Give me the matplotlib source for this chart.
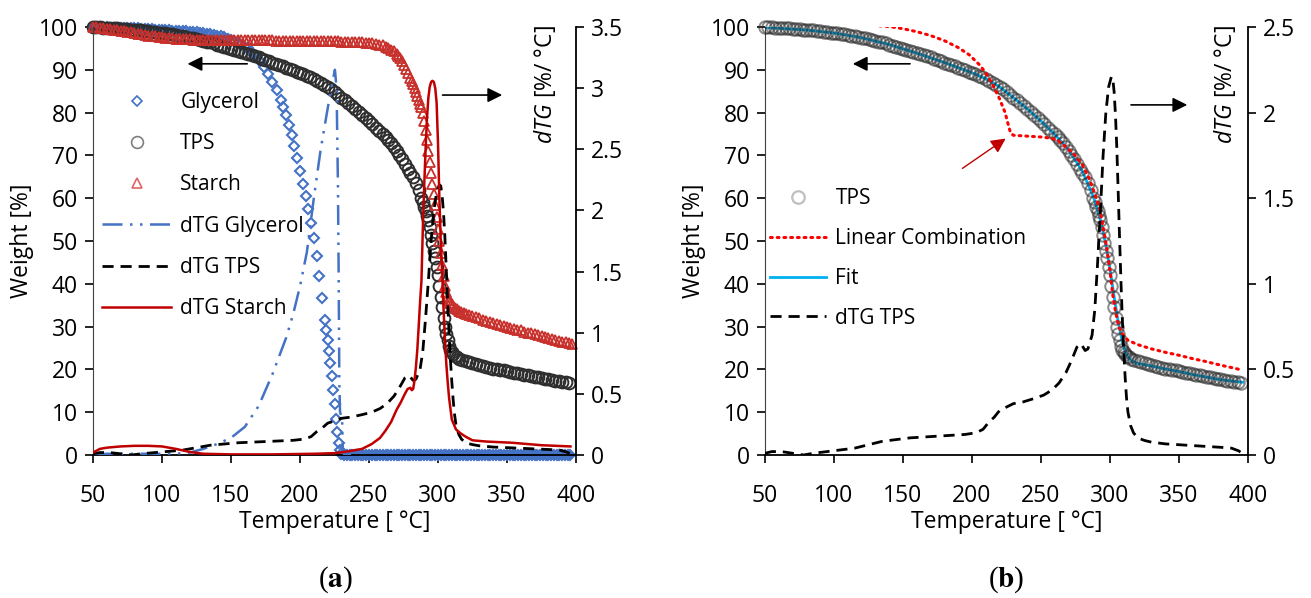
import numpy as np
import matplotlib.pyplot as plt
from matplotlib.lines import Line2D

plt.rcParams['font.family'] = ['Open Sans', 'DejaVu Sans']
plt.rcParams['mathtext.fontset'] = 'custom'
plt.rcParams['mathtext.rm'] = 'Open Sans'
plt.rcParams['mathtext.it'] = 'Open Sans:italic'

# ---- weight curves [%] vs temperature [C] ----
gly_T = [50, 52.5, 55, 57.5, 60, 62.5, 65, 67.5, 70, 72.5, 75, 77.5, 80, 82.5, 85, 87.5, 90, 92.5,
         95, 97.5, 100, 102.5, 105, 107.5, 110, 112.5, 115, 117.5, 120, 122.5, 125, 127.5, 130,
         132.5, 135, 137.5, 140, 142.5, 145, 147.5, 150, 152.5, 155, 157.5, 160, 162, 164, 166, 168,
         170, 171, 174, 177, 180, 183, 186, 188, 190, 192, 194, 196, 198, 200, 202, 204, 206, 208,
         210, 212, 214, 216, 218, 219, 220, 221, 222, 223, 224, 225, 226, 227, 228, 229, 230]
gly_w = [100, 99.95, 99.9, 99.9, 99.9, 99.85, 99.8, 99.8, 99.8, 99.75, 99.7, 99.7, 99.7, 99.65,
         99.6, 99.55, 99.5, 99.45, 99.4, 99.35, 99.3, 99.25, 99.2, 99.15, 99.1, 99.05, 99.0, 98.95,
         98.9, 98.85, 98.8, 98.7, 98.6, 98.45, 98.3, 98.15, 98.0, 97.8, 97.6, 97.3, 97.0, 96.65,
         96.3, 95.85, 95.4, 95.0, 94.4, 93.8, 93.2, 92.4, 92.0, 90.6, 89.0, 87.2, 85.2, 83.0, 81.3,
         79.4, 77.2, 74.8, 72.2, 69.4, 66.3, 63.3, 60.4, 57.4, 54.3, 50.8, 46.6, 41.8, 36.6, 31.6,
         29.2, 26.8, 24.2, 21.4, 18.4, 15.2, 11.8, 8.4, 5.3, 2.8, 1.1, 0.3]
# glycerol residue: flat at zero up to the end of the run
gly_tail_T = [232, 234, 236, 238, 240, 242, 244, 246, 248, 250, 252, 254, 256, 258, 260, 262, 264,
              266, 268, 270, 272, 274, 276, 278, 280, 282, 284, 286, 288, 290, 292, 294, 296, 298,
              300, 302, 304, 306, 308, 310, 312, 314, 316, 318, 320, 322, 324, 326, 328, 330, 332,
              334, 336, 338, 340, 342, 344, 346, 348, 350, 352, 354, 356, 358, 360, 362, 364, 366,
              368, 370, 372, 374, 376, 378, 380, 382, 384, 386, 388, 390, 392, 394, 396]
gly_tail_w = [0, 0, 0, 0, 0, 0, 0, 0, 0, 0, 0, 0, 0, 0, 0, 0, 0, 0, 0, 0, 0, 0, 0, 0, 0, 0, 0, 0,
              0, 0, 0, 0, 0, 0, 0, 0, 0, 0, 0, 0, 0, 0, 0, 0, 0, 0, 0, 0, 0, 0, 0, 0, 0, 0, 0, 0,
              0, 0, 0, 0, 0, 0, 0, 0, 0, 0, 0, 0, 0, 0, 0, 0, 0, 0, 0, 0, 0, 0, 0, 0, 0, 0, 0]

tps_T = [50, 52.5, 55, 57.5, 60, 62.5, 65, 67.5, 70, 72.5, 75, 77.5, 80, 82.5, 85, 87.5, 90, 92.5,
         95, 97.5, 100, 102.5, 105, 107.5, 110, 112.5, 115, 117.5, 120, 122.5, 125, 127.5, 130,
         132.5, 135, 137.5, 140, 142.5, 145, 147.5, 150, 152.5, 155, 157.5, 160, 162.5, 165, 167.5,
         170, 172.5, 175, 177.5, 180, 182.5, 185, 187.5, 190, 192.5, 195, 197.5, 200, 202.5, 205,
         207.5, 210, 212.5, 215, 217.5, 220, 222.5, 225, 227.5, 230, 232.5, 235, 237.5, 240, 242.5,
         245, 247.5, 250, 252.5, 255, 257.5, 260, 262, 264, 266, 268, 270, 272, 274, 276, 278, 280,
         282, 284, 286, 288, 289, 290, 291, 292, 293, 294, 295, 296, 297, 298, 299, 300, 301, 302,
         303, 304, 305, 306, 307, 308, 309, 310, 311, 312, 313.5, 315, 317.5, 320, 322.5, 325,
         327.5, 330, 332.5, 335, 337.5, 340, 342.5, 345, 347.5, 350, 352.5, 355, 357.5, 360, 362.5,
         365, 367.5, 370, 372.5, 375, 377.5, 380, 382.5, 385, 387.5, 390, 392.5, 395]
tps_w = [100, 99.95, 99.9, 99.85, 99.8, 99.75, 99.7, 99.65, 99.6, 99.55, 99.5, 99.4, 99.3, 99.25,
         99.2, 99.1, 99.0, 98.9, 98.8, 98.7, 98.6, 98.5, 98.4, 98.25, 98.1, 97.95, 97.8, 97.65,
         97.5, 97.35, 97.2, 97.0, 96.8, 96.6, 96.4, 96.15, 95.9, 95.65, 95.4, 95.15, 94.9, 94.65,
         94.4, 94.15, 93.9, 93.65, 93.4, 93.15, 92.9, 92.6, 92.3, 92.0, 91.7, 91.4, 91.1, 90.8,
         90.5, 90.2, 89.9, 89.6, 89.3, 88.95, 88.6, 88.25, 87.9, 87.45, 87.0, 86.5, 86.0, 85.4,
         84.8, 84.15, 83.5, 82.85, 82.2, 81.55, 80.9, 80.2, 79.5, 78.75, 78.0, 77.25, 76.5, 75.7,
         74.9, 74.2, 73.5, 72.8, 72.0, 71.1, 70.2, 69.1, 68.0, 66.9, 65.9, 64.9, 63.5, 61.9, 60.0,
         59.0, 58.0, 57.0, 55.9, 54.8, 53.2, 51.5, 49.6, 47.7, 46.0, 44.0, 42.0, 39.5, 37.0, 34.5,
         32.0, 30.0, 28.3, 26.8, 25.5, 24.6, 24.0, 23.5, 23.1, 22.8, 22.4, 22.1, 21.9, 21.65, 21.4,
         21.2, 21.0, 20.8, 20.6, 20.4, 20.2, 20.05, 19.9, 19.75, 19.6, 19.4, 19.2, 19.05, 18.9,
         18.75, 18.6, 18.45, 18.3, 18.15, 18.0, 17.85, 17.7, 17.55, 17.4, 17.25, 17.1, 17.0, 16.9]

sta_T = [50, 52.5, 55, 57.5, 60, 62.5, 65, 67.5, 70, 72.5, 75, 77.5, 80, 82.5, 85, 87.5, 90, 92.5,
         95, 97.5, 100, 102.5, 105, 107.5, 110, 112.5, 115, 117.5, 120, 122.5, 125, 127.5, 130,
         132.5, 135, 137.5, 140, 142.5, 145, 147.5, 150, 152.5, 155, 157.5, 160, 162.5, 165, 167.5,
         170, 172.5, 175, 177.5, 180, 182.5, 185, 187.5, 190, 192.5, 195, 197.5, 200, 202.5, 205,
         207.5, 210, 212.5, 215, 217.5, 220, 222.5, 225, 227.5, 230, 232.5, 235, 237.5, 240, 242.5,
         245, 247.5, 250, 252.5, 255, 257.5, 260, 262, 264, 266, 268, 270, 271, 272.5, 274, 275.5,
         277, 278.5, 280, 281, 282, 283, 284, 285, 286, 287, 288, 289, 290, 291, 292, 293, 294, 295,
         296, 297, 298, 299, 300, 301, 302, 303, 304, 305, 306, 307, 308, 309, 310, 311, 312.5, 314,
         315.5, 317, 318.5, 320, 322.5, 325, 327.5, 330, 332.5, 335, 337.5, 340, 342.5, 345, 347.5,
         350, 352.5, 355, 357.5, 360, 362.5, 365, 367.5, 370, 372.5, 375, 377.5, 380, 382.5, 385,
         387.5, 390, 392.5, 395, 397]
sta_w = [100, 99.9, 99.8, 99.7, 99.6, 99.5, 99.4, 99.25, 99.1, 99.0, 98.9, 98.75, 98.6, 98.45,
         98.3, 98.15, 98.0, 97.9, 97.8, 97.7, 97.6, 97.5, 97.4, 97.35, 97.3, 97.25, 97.2, 97.15,
         97.1, 97.0, 96.9, 96.9, 96.9, 96.9, 96.9, 96.9, 96.9, 96.9, 96.9, 96.9, 96.9, 96.9, 96.9,
         96.9, 96.9, 96.9, 96.9, 96.9, 96.9, 96.9, 96.9, 96.9, 96.9, 96.8, 96.8, 96.8, 96.8, 96.8,
         96.8, 96.8, 96.8, 96.8, 96.8, 96.8, 96.8, 96.8, 96.7, 96.7, 96.7, 96.7, 96.7, 96.7, 96.6,
         96.6, 96.6, 96.6, 96.5, 96.45, 96.4, 96.35, 96.3, 96.2, 96.1, 95.9, 95.7, 95.4, 95.1, 94.7,
         94.3, 93.7, 93.3, 92.7, 92.0, 91.2, 90.3, 89.3, 88.2, 87.4, 86.6, 85.7, 84.8, 83.9, 83.0,
         82.1, 81.2, 79.8, 78.0, 76.0, 73.5, 71.0, 68.5, 66.0, 63.4, 60.9, 58.3, 55.6, 52.8, 50.0,
         47.2, 44.4, 41.8, 39.6, 38.0, 36.9, 36.2, 35.6, 35.2, 34.8, 34.4, 34.0, 33.7, 33.4, 33.2,
         33.0, 32.7, 32.4, 32.15, 31.9, 31.65, 31.4, 31.15, 30.9, 30.65, 30.4, 30.2, 30.0, 29.75,
         29.5, 29.3, 29.1, 28.85, 28.6, 28.4, 28.2, 27.95, 27.7, 27.5, 27.3, 27.1, 26.9, 26.7,
         26.5, 26.3, 26.1, 26.0]

# ---- derivative curves dTG [%/C] ----
dgly_T = [50, 60, 70, 80, 90, 100, 110, 120, 130, 140, 150, 160, 170, 180, 190, 195, 200, 205, 210,
          215, 220, 223, 225.3, 226.5, 227.5, 228, 228.5, 229, 230.5, 231, 232, 240]
dgly_v = [0.0, 0.01, 0.01, 0.01, 0.01, 0.01, 0.01, 0.02, 0.05, 0.09, 0.14, 0.23, 0.40, 0.66, 0.96,
          1.15, 1.38, 1.66, 2.10, 2.50, 2.83, 3.02, 3.15, 3.0, 2.2, 1.5, 0.6, 0.35, 0.3, 0.05, 0.0, 0.0]

dtps_T = [50, 55, 62, 70, 78, 85, 95, 105, 115, 125, 135, 145, 155, 165, 175, 185, 195, 203, 208,
          212, 216, 220, 225, 230, 237, 245, 252, 258, 263, 268, 272, 276, 279, 282, 284, 287, 289,
          291, 293, 295, 297, 299, 301, 302, 303, 304, 305, 306, 307, 308, 309, 310, 311, 312, 313,
          315, 317, 320, 325, 330, 340, 350, 360, 370, 380, 388, 393, 396]
dtps_v = [0.01, 0.02, 0.02, 0.01, 0.0, 0.01, 0.02, 0.03, 0.04, 0.06, 0.08, 0.09, 0.10, 0.105, 0.11,
          0.115, 0.12, 0.13, 0.15, 0.19, 0.22, 0.26, 0.28, 0.30, 0.31, 0.33, 0.35, 0.38, 0.42, 0.48,
          0.55, 0.63, 0.65, 0.61, 0.62, 0.70, 0.85, 1.12, 1.42, 1.75, 2.0, 2.15, 2.21, 2.2, 2.12,
          1.98, 1.78, 1.52, 1.25, 1.0, 0.78, 0.6, 0.45, 0.33, 0.25, 0.17, 0.13, 0.10, 0.085, 0.075,
          0.065, 0.06, 0.055, 0.05, 0.045, 0.04, 0.025, 0.01]

dsta_T = [50, 55, 60, 70, 80, 90, 100, 110, 120, 130, 150, 180, 210, 225, 235, 245, 252, 258, 262,
          266, 270, 273, 276, 278, 280, 281, 282, 283, 284, 285, 286, 287, 288, 289, 290, 291, 292,
          293, 294, 295, 296, 297, 298, 299, 300, 301, 302, 303, 304, 305, 306, 307, 308, 310, 313,
          316, 320, 325, 335, 354, 375, 396]
dsta_v = [0.02, 0.05, 0.06, 0.07, 0.075, 0.075, 0.07, 0.05, 0.025, 0.01, 0.005, 0.005, 0.01, 0.015,
          0.03, 0.05, 0.09, 0.14, 0.2, 0.27, 0.37, 0.43, 0.5, 0.54, 0.55, 0.53, 0.54, 0.61, 0.72,
          0.86, 1.05, 1.25, 1.42, 1.85, 2.2, 2.5, 2.75, 2.92, 3.01, 3.05, 3.06, 3.05, 3.0, 2.88,
          2.55, 2.1, 1.75, 1.49, 1.2, 0.95, 0.75, 0.6, 0.47, 0.29, 0.21, 0.18, 0.15, 0.12, 0.11,
          0.10, 0.08, 0.07]

# ---- panel b: fit and linear combination ----
fit_T = [50, 60, 80, 100, 120, 140, 160, 180, 200, 210, 220, 230, 240, 250, 260, 270, 280, 288,
         293, 297, 300, 303, 306, 309, 311, 313, 316, 320, 330, 340, 350, 360, 370, 380, 390, 396]
fit_w = [99.9, 99.7, 99.3, 98.6, 97.5, 95.9, 93.9, 91.7, 89.3, 87.9, 86.0, 83.5, 80.9, 78.0, 74.9,
         71.3, 66.3, 60.3, 55.0, 49.0, 43.5, 37.0, 31.0, 26.3, 24.3, 22.9, 21.9, 21.4, 20.8, 20.1,
         19.5, 18.8, 18.2, 17.6, 17.2, 17.0]

lin_T = [128, 140, 150, 160, 170, 180, 190, 198, 205, 210, 215, 220, 224, 226, 228, 230, 240, 250,
         258, 263, 268, 274, 280, 285, 289, 292, 294, 296, 298, 300, 302, 304, 306, 308, 310, 313,
         320, 330, 340, 350, 360, 370, 380, 390, 396]
lin_w = [100.4, 100.1, 99.6, 98.9, 98.0, 96.8, 95.2, 93.5, 91.3, 89.3, 86.5, 83.2, 80.0, 77.5, 75.2,
         74.7, 74.5, 74.3, 74.0, 73.3, 72.0, 70.2, 67.8, 64.5, 61.0, 58.0, 55.0, 51.5, 47.5, 43.0,
         37.5, 33.5, 30.5, 28.8, 27.8, 26.8, 25.8, 24.8, 24.0, 23.3, 22.5, 21.8, 21.0, 20.3, 19.8]

xticks = [50, 100, 150, 200, 250, 300, 350, 400]
wticks = [0, 10, 20, 30, 40, 50, 60, 70, 80, 90, 100]
rticks_a = [0, 0.5, 1, 1.5, 2, 2.5, 3, 3.5]
rticks_b = [0, 0.5, 1, 1.5, 2, 2.5]

FS = 16.5
LFS = 15
W, H = 1311, 598
fig = plt.figure(figsize=(W / 100, H / 100), dpi=100)
ax_a = fig.add_axes([93 / W, 1 - 455 / H, 483 / W, 428 / H])
ax_b = fig.add_axes([765 / W, 1 - 455 / H, 483 / W, 428 / H])


def style(ax, axr, rticks, lab_x):
    ax.set_xlim(50, 400)
    ax.set_ylim(0, 100)
    axr.set_ylim(0, rticks[-1])
    ax.set_xticks(xticks)
    ax.set_yticks(wticks)
    axr.set_yticks(rticks)
    axr.set_yticklabels(['{:g}'.format(t) for t in rticks])
    for a in (ax, axr):
        a.spines['top'].set_visible(False)
    ax.spines['right'].set_visible(False)
    axr.spines['left'].set_visible(False)
    axr.spines['bottom'].set_visible(False)
    ax.spines['left'].set_color('#404040')
    ax.spines['bottom'].set_linewidth(1.3)
    axr.spines['right'].set_linewidth(1.3)
    ax.tick_params(axis='x', direction='out', length=6, width=1.2, pad=15, labelsize=FS)
    ax.tick_params(axis='y', direction='out', length=6, width=1.2, pad=5, labelsize=FS)
    axr.tick_params(axis='y', direction='out', length=6, width=1.2, pad=5, labelsize=FS)
    ax.set_xlabel('Temperature [ °C]', fontsize=FS, labelpad=1)
    ax.set_ylabel('Weight [%]', fontsize=FS, labelpad=3)
    axr.text(lab_x, 0.865, r'$\mathit{dTG}$ [%/ °C]', transform=axr.transAxes, rotation=90,
             ha='center', va='center', fontsize=FS)


# ---------------- panel (a) ----------------
ax_ar = ax_a.twinx()
gly_style = dict(ls='none', marker='D', ms=5.6, mfc='none', mec='#4472C4', mew=1.5, clip_on=False)
ax_a.plot(gly_T, gly_w, **gly_style)
ax_a.plot(gly_tail_T, gly_tail_w, ls='none', marker='D', ms=5.6, mfc='#4472C4', mec='#4472C4',
          mew=1.5, clip_on=False)
ax_a.plot(tps_T, tps_w, ls='none', marker='o', ms=8.5, mfc='none', mec='#2e2e2e', mew=1.4,
          clip_on=False)
ax_a.plot(sta_T, sta_w, ls='none', marker='^', ms=7.5, mfc='none', mec='#C8302C', mew=1.3,
          clip_on=False)
h4, = ax_ar.plot(dgly_T, dgly_v, color='#4472C4', lw=1.8, ls=(0, (8, 3, 1, 3, 1, 3)),
                 label='dTG Glycerol')
h5, = ax_ar.plot(dtps_T, dtps_v, color='black', lw=2.0, ls=(0, (4, 2.5)), label='dTG TPS')
h6, = ax_ar.plot(dsta_T, dsta_v, color='#C00000', lw=1.8, label='dTG Starch')
style(ax_a, ax_ar, rticks_a, 0.936)
# legend keys drawn with the lighter single-marker colours of the original
h1 = Line2D([], [], ls='none', marker='D', ms=5.6, mfc='none', mec='#4472C4', mew=1.2, label='Glycerol')
h2 = Line2D([], [], ls='none', marker='o', ms=8.5, mfc='none', mec='#7f7f7f', mew=1.2, label='TPS')
h3 = Line2D([], [], ls='none', marker='^', ms=7.5, mfc='none', mec='#E06666', mew=1.2, label='Starch')
ax_ar.legend(handles=[h1, h2, h3, h4, h5, h6], loc='upper left', bbox_to_anchor=(0.019, 0.848),
             frameon=False, borderpad=0, borderaxespad=0, handlelength=3.3, handletextpad=0.45,
             labelspacing=0.97, fontsize=LFS, numpoints=1)
arr = dict(arrowstyle='-|>', mutation_scale=22, lw=1.2, color='black')
ax_ar.annotate('', xy=(0.19, 0.914), xytext=(0.325, 0.914), xycoords='axes fraction', arrowprops=arr)
ax_ar.annotate('', xy=(0.853, 0.841), xytext=(0.718, 0.841), xycoords='axes fraction', arrowprops=arr)

# ---------------- panel (b) ----------------
ax_br = ax_b.twinx()
g2, = ax_b.plot(fit_T, fit_w, color='#00B0F0', lw=2.0, label='Fit', zorder=2)
ax_b.plot(tps_T, tps_w, ls='none', marker='o', ms=9, mfc='none', mec='#2a2a2a', mew=1.4,
          alpha=0.55, clip_on=False, zorder=3)
g3, = ax_b.plot(lin_T, lin_w, color='#FF0000', lw=2.2, ls=(0, (0.6, 1.6)), dash_capstyle='round',
                label='Linear Combination', zorder=4)
g4, = ax_br.plot(dtps_T, dtps_v, color='black', lw=2.0, ls=(0, (4, 2.5)), label='dTG TPS')
style(ax_b, ax_br, rticks_b, 0.952)
g1 = Line2D([], [], ls='none', marker='o', ms=9, mfc='none', mec='#BFBFBF', mew=1.6, label='TPS')
ax_br.legend(handles=[g1, g3, g2, g4], loc='upper left', bbox_to_anchor=(0.01, 0.623),
             frameon=False, borderpad=0, borderaxespad=0, handlelength=2.7, handletextpad=0.45,
             labelspacing=0.9, fontsize=LFS, numpoints=1)
ax_br.annotate('', xy=(0.176, 0.914), xytext=(0.306, 0.914), xycoords='axes fraction', arrowprops=arr)
ax_br.annotate('', xy=(0.88, 0.818), xytext=(0.752, 0.818), xycoords='axes fraction', arrowprops=arr)
ax_br.annotate('', xy=(0.503, 0.743), xytext=(0.404, 0.666), xycoords='axes fraction',
               arrowprops=dict(arrowstyle='-|>', mutation_scale=22, lw=1.0, color='#C00000'))

fig.text(335 / W, 1 - 580 / H, r'($\mathbf{a}$)', ha='center', va='center', fontsize=21,
         family='Liberation Serif', math_fontfamily='stix')
fig.text(1006 / W, 1 - 580 / H, r'($\mathbf{b}$)', ha='center', va='center', fontsize=21,
         family='Liberation Serif', math_fontfamily='stix')

fig.savefig('out.png', dpi=100)
